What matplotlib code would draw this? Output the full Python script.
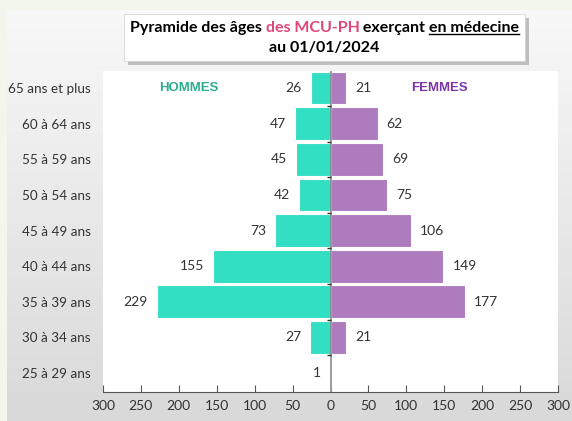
import numpy as np
import matplotlib
matplotlib.use("Agg")
import matplotlib.pyplot as plt
from matplotlib.patches import Rectangle

# data
age_groups = ['25 à 29 ans', '30 à 34 ans', '35 à 39 ans', '40 à 44 ans', '45 à 49 ans',
              '50 à 54 ans', '55 à 59 ans', '60 à 64 ans', '65 ans et plus']
hommes = [1, 27, 229, 155, 73, 42, 45, 47, 26]
femmes = [0, 21, 177, 149, 106, 75, 69, 62, 21]
x_ticks = [-300, -250, -200, -150, -100, -50, 0, 50, 100, 150, 200, 250, 300]

TEAL = '#33dfc2'
PURPLE = '#ae7bbf'
FONT = 'Lato'

W, H = 572, 421
fig = plt.figure(figsize=(W / 100, H / 100), dpi=100)

# background: grey gradient panel with a light green strip on top / left
bg = fig.add_axes([0, 0, 1, 1], zorder=-10)
grad = np.linspace(0, 1, 256).reshape(-1, 1)
bg.imshow(grad, cmap=matplotlib.colors.LinearSegmentedColormap.from_list('g', ['#f9f9f9', '#d9d9d9']),
          extent=[0, W, 0, H], aspect='auto', origin='upper')
bg.add_patch(Rectangle((0, 0), 7, H, color='#f3f6ec', lw=0))
bg.add_patch(Rectangle((0, H - 10), W, 10, color='#f3f6ec', lw=0))
# title box with shadow
bg.add_patch(Rectangle((128, H - 65), 401, 47, color='#9a9a9a', lw=0, alpha=0.6))
bg.add_patch(Rectangle((124, H - 61), 401, 47, facecolor='white', edgecolor='#d0d0d0', lw=0.5))
bg.set_xlim(0, W)
bg.set_ylim(0, H)
bg.axis('off')

ax = fig.add_axes([103 / W, 1 - 392 / H, (558 - 103) / W, (392 - 71) / H])
ax.set_facecolor('white')

y = np.arange(len(age_groups))
ax.barh(y, [-v for v in hommes], height=0.92, color=TEAL, edgecolor='white', linewidth=0.8, zorder=2)
ax.barh(y, femmes, height=0.92, color=PURPLE, edgecolor='white', linewidth=0.8, zorder=2)

# centre axis with short separator ticks between age groups
ax.axvline(0, color='#8a8a8a', lw=1.2, zorder=3)
ax.hlines(y[:-1] + 0.5, -5, 0, color='#333333', lw=1, zorder=4)

for i, (m, f) in enumerate(zip(hommes, femmes)):
    if m:
        ax.annotate(str(m), xy=(-m, i), xytext=(-9, 0), textcoords='offset pixels',
                    ha='right', va='center', fontsize=10, family=FONT, color='#333333')
    if f:
        ax.annotate(str(f), xy=(f, i), xytext=(9, 0), textcoords='offset pixels',
                    ha='left', va='center', fontsize=10, family=FONT, color='#333333')

ax.text(-187, 8, 'HOMMES', ha='center', va='center', fontsize=9.5, fontweight='bold',
        family='Liberation Sans', color='#2aae8e')
ax.text(144, 8, 'FEMMES', ha='center', va='center', fontsize=9.5, fontweight='bold',
        family='Liberation Sans', color='#7a35a8')

ax.set_xlim(-300, 300)
ax.set_ylim(-0.53, 8.48)
ax.set_xticks(x_ticks, [str(abs(v)) for v in x_ticks])
ax.set_yticks(y, age_groups)
ax.tick_params(axis='y', length=0, pad=9, labelsize=9.7, labelcolor='#333333')
ax.tick_params(axis='x', direction='in', length=5, color='#555555', pad=6,
               labelsize=10, labelcolor='#333333')
for lab in ax.get_xticklabels() + ax.get_yticklabels():
    lab.set_family(FONT)
for s in ['left', 'right', 'top']:
    ax.spines[s].set_visible(False)
ax.spines['bottom'].set_color('#555555')

# title in pieces (coloured part + underlined part)
fs = 11.5
ty = 1 - 28 / H
parts = [('Pyramide des âges ', 'black'), ('des MCU-PH', '#e0457b'),
         (' exerçant ', 'black'), ('en médecine', 'black')]
fig.canvas.draw()
r = fig.canvas.get_renderer()
texts = []
for s, c in parts:
    t = fig.text(0, ty, s, fontsize=fs, fontweight='bold', family=FONT, color=c, va='center')
    texts.append(t)
widths = [t.get_window_extent(r).width for t in texts]
x0 = 324.5 - sum(widths) / 2
for t, w in zip(texts, widths):
    t.set_x(x0 / W)
    x0 += w
fig.canvas.draw()
bb = texts[-1].get_window_extent(r)
fig.add_artist(plt.Line2D([bb.x0 / W, bb.x1 / W], [(bb.y0 + 1) / H] * 2, color='black', lw=1))
fig.text(324.5 / W, 1 - 48 / H, 'au 01/01/2024', fontsize=fs, fontweight='bold', family=FONT,
         ha='center', va='center')

fig.savefig('out.png', dpi=100)
